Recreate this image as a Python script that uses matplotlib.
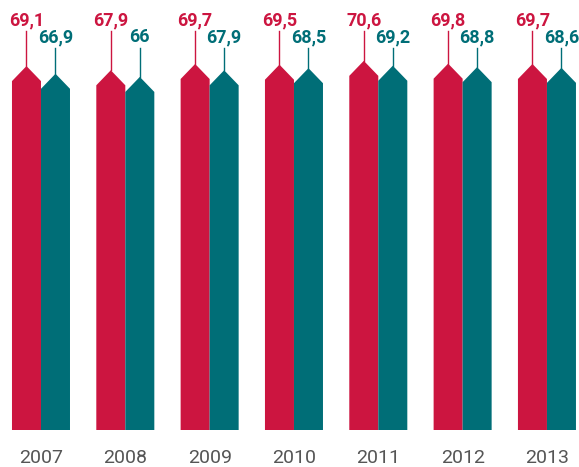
import matplotlib.pyplot as plt
from matplotlib.patches import Polygon

years = ["2007", "2008", "2009", "2010", "2011", "2012", "2013"]
red_values = [69.1, 67.9, 69.7, 69.5, 70.6, 69.8, 69.7]
teal_values = [66.9, 66.0, 67.9, 68.5, 69.2, 68.8, 68.6]

RED = "#CC1540"
TEAL = "#006E77"
BASE = -35.0
BAR_W = 0.344
TIP = 4.3


def fmt(v):
    s = "{:.1f}".format(v).replace(".", ",")
    return s[:-2] if s.endswith(",0") else s


def draw_bar(ax, x_left, value, color):
    x_right = x_left + BAR_W
    x_mid = x_left + BAR_W / 2
    pts = [(x_left, BASE), (x_left, value - TIP), (x_mid, value),
           (x_right, value - TIP), (x_right, BASE)]
    ax.add_patch(Polygon(pts, closed=True, facecolor=color, edgecolor="none"))


fig = plt.figure(figsize=(5.79, 4.67), dpi=100)
ax = fig.add_axes([0, 37 / 467, 1, 430 / 467])
ax.set_xlim(-0.486, 6.38)
ax.set_ylim(BASE, 88.0)

for i, (r, t) in enumerate(zip(red_values, teal_values)):
    draw_bar(ax, i - BAR_W, r, RED)
    draw_bar(ax, i, t, TEAL)
    xr = i - BAR_W / 2
    xt = i + BAR_W / 2
    ax.plot([xr, xr], [r, 79.0], color=RED, lw=1.0)
    ax.plot([xt, xt], [t, 74.3], color=TEAL, lw=1.0)
    ax.text(xr, 80.6, fmt(r), color=RED, ha="center", va="baseline",
            fontsize=13, fontweight="bold", family="Roboto")
    ax.text(xt, 76.0, fmt(t), color=TEAL, ha="center", va="baseline",
            fontsize=13, fontweight="bold", family="Roboto")

ax.set_xticks(range(len(years)))
ax.set_xticklabels(years, fontsize=14, color="#555555", family="Roboto")
ax.tick_params(axis="x", length=0, pad=14)
ax.set_yticks([])
for spine in ax.spines.values():
    spine.set_visible(False)

fig.savefig("out.png", dpi=100)
